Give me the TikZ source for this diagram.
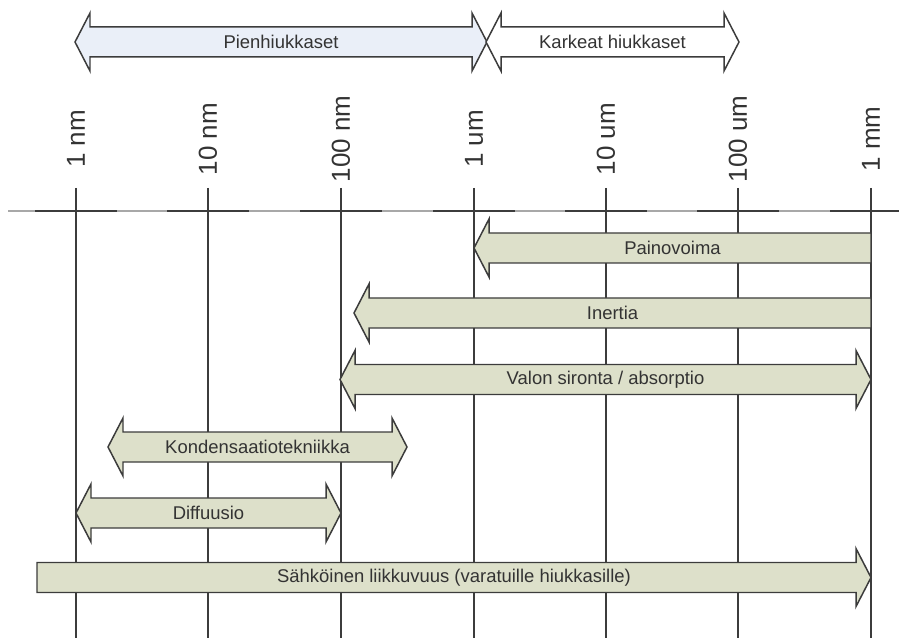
\documentclass[tikz,border=0pt]{standalone}
\usepackage{fontspec}
\setmainfont{Liberation Sans}
\usepackage{tikz}
\usetikzlibrary{positioning}

\definecolor{bandgreen}{HTML}{DDE0CA}
\definecolor{bandblue}{HTML}{EAEFF8}
\definecolor{edgegray}{HTML}{3C3C3C}
\definecolor{textgray}{HTML}{333333}
\definecolor{linegray}{HTML}{A8A8A8}

% block arrows: left tip, right tip, middle y, style
\newcommand{\bothway}[4]{%
  \draw[#4] (#1,#3) -- ++(15,-29) -- ++(0,14) -- (#2-15,#3-15) -- ++(0,-14)
    -- (#2,#3) -- ++(-15,29) -- ++(0,-14) -- (#1+15,#3+15) -- ++(0,14) -- cycle;}
\newcommand{\leftway}[4]{%
  \draw[#4] (#1,#3) -- ++(15,-29) -- ++(0,14) -- (#2,#3-15) -- (#2,#3+15)
    -- (#1+15,#3+15) -- ++(0,14) -- cycle;}
\newcommand{\rightway}[4]{%
  \draw[#4] (#1,#3-15) -- (#2-15,#3-15) -- ++(0,-14) -- (#2,#3) -- ++(-15,29)
    -- ++(0,-14) -- (#1,#3+15) -- cycle;}

\begin{document}
\begin{tikzpicture}[x=0.02cm,y=-0.02cm]
\tikzstyle{band} = [draw=edgegray, line width=0.85pt, fill=bandgreen, line join=miter]
\tikzstyle{toparrow} = [band, fill=bandblue]
\tikzstyle{bandtext} = [font=\fontsize{10.5}{12}\selectfont, text=textgray, inner sep=0pt]
\tikzstyle{scalelabel} = [rotate=90, font=\fontsize{14.8}{17}\selectfont, text=textgray, inner sep=0pt]
\tikzstyle{gridline} = [draw=edgegray, line width=0.85pt]

\useasboundingbox (0,0) rectangle (899,638);

% Size classes
\bothway{75}{487}{42}{toparrow}
\bothway{486}{739}{42}{toparrow, fill=white}
\node[bandtext] (pien) at (281,42) {Pienhiukkaset};
\node[bandtext] (karkea) at (612.5,42) {Karkeat hiukkaset};

% Scale
\draw[linegray, line width=1.1pt] (8,211) -- (899,211);
\foreach \x/\lab [count=\i] in {76/1 nm, 208/10 nm, 341/100 nm, 474/1 um,
                                606/10 um, 738/100 um, 871/1 mm} {
  \node[scalelabel] (size\i) at (\x,139) {\lab};
  \coordinate (top\i) at (\x,188);
  \coordinate (bot\i) at (\x,638);
  \draw[gridline] (top\i) -- (bot\i);
  \draw[edgegray, line width=1.4pt] (\x-41,211) -- (\x+41,211);
}

% Mechanisms
\leftway{474}{871}{248}{band}
\node[bandtext] (paino) at (672.5,248) {Painovoima};

\leftway{354}{871}{313}{band}
\node[bandtext] (inertia) at (612.5,313) {Inertia};

\bothway{340}{871}{379.5}{band}
\node[bandtext] (valo) at (605.5,379.5) {Valon sironta / absorptio};

\bothway{108}{407}{447}{band}
\node[bandtext] (konde) at (257.5,447) {Kondensaatiotekniikka};

\bothway{76}{341}{513}{band}
\node[bandtext] (diffuusio) at (208.5,513) {Diffuusio};

\rightway{37}{871}{577.5}{band}
\node[bandtext] (sahko) at (454,577.5) {Sähköinen liikkuvuus (varatuille hiukkasille)};
\end{tikzpicture}
\end{document}
